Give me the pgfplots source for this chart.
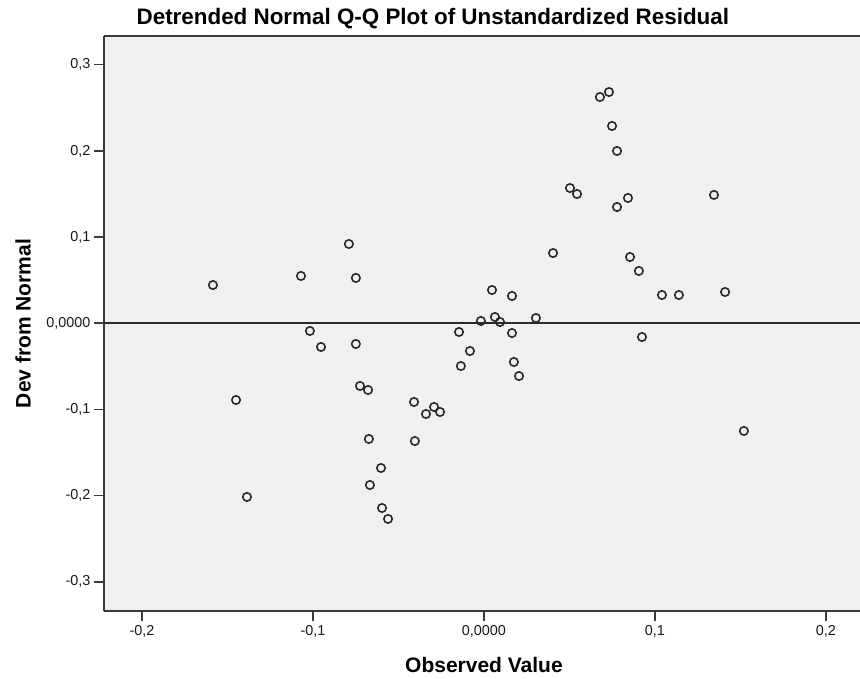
\documentclass[border=0pt]{standalone}
\usepackage{fontspec}
\setmainfont{Liberation Sans}
\usepackage{pgfplots}
\pgfplotsset{compat=1.18}
\definecolor{plotbg}{HTML}{F0F0F0}
\definecolor{framec}{HTML}{3A3A3A}
\definecolor{markc}{HTML}{2A2A2A}
\begin{document}
\begin{tikzpicture}
\path[use as bounding box] (-104pt,-67pt) rectangle (756pt,611pt);
\begin{axis}[
  scale only axis, width=756pt, height=575pt,
  at={(0,0)}, anchor=south west,
  xmin=-0.2222, xmax=0.2199, ymin=-0.3338, ymax=0.3333,
  axis background/.style={fill=plotbg},
  axis x line=box, axis y line=left,
  axis line style={-, draw=framec, line width=1.6pt},
  tick align=outside, xtick pos=bottom, ytick pos=left,
  major tick length=10pt,
  tick style={draw=framec, line width=1.6pt},
  xtick={-0.2,-0.1,0,0.1,0.2},
  xticklabels={{-0,2},{-0,1},{0,0000},{0,1},{0,2}},
  ytick={-0.3,-0.2,-0.1,0,0.1,0.2,0.3},
  yticklabels={{-0,3},{-0,2},{-0,1},{0,0000},{0,1},{0,2},{0,3}},
  /pgf/number format/assume math mode=true,
  ticklabel style={font=\fontsize{14.4}{16}\selectfont, text=black!90},
  xticklabel style={yshift=-1pt},
  title={Detrended Normal Q-Q Plot of Unstandardized Residual},
  title style={at={(axis description cs:0.435,1)}, anchor=center, yshift=11pt,
    font=\fontsize{22.4}{26}\selectfont\bfseries},
  xlabel={Observed Value},
  xlabel style={at={(axis description cs:0.5026,0)}, anchor=center, yshift=-54pt,
    font=\fontsize{21}{25}\selectfont\bfseries},
  ylabel={Dev from Normal},
  ylabel style={at={(axis description cs:-0.1071,0.5)}, anchor=center, rotate=0,
    font=\fontsize{21}{25}\selectfont\bfseries},
  clip=false,
]
\addplot[markc, line width=1.8pt, forget plot] coordinates {(-0.2222,0) (0.2199,0)};
\addplot[only marks, mark=o, mark size=4.2pt, mark options={draw=markc, line width=1.6pt}] coordinates {
(-0.1585,0.0444) (-0.1450,-0.0890) (-0.1386,-0.2015) (-0.1070,0.0549) (-0.1018,-0.0089)
(-0.0953,-0.0275) (-0.0790,0.0920) (-0.0749,0.0526) (-0.0749,-0.0240) (-0.0725,-0.0727)
(-0.0678,-0.0774) (-0.0673,-0.1342) (-0.0667,-0.1876) (-0.0602,-0.1679) (-0.0596,-0.2143)
(-0.0561,-0.2270) (-0.0409,-0.0913) (-0.0404,-0.1366) (-0.0339,-0.1052) (-0.0292,-0.0971)
(-0.0257,-0.1029) (-0.0146,-0.0101) (-0.0135,-0.0496) (-0.0082,-0.0322) (-0.0018,0.0027)
(0.0047,0.0386) (0.0064,0.0073) (0.0094,0.0015) (0.0164,0.0317) (0.0164,-0.0113)
(0.0175,-0.0449) (0.0205,-0.0612) (0.0304,0.0061) (0.0404,0.0815) (0.0503,0.1569)
(0.0544,0.1500) (0.0678,0.2625) (0.0731,0.2683) (0.0749,0.2289) (0.0778,0.1999)
(0.0778,0.1349) (0.0842,0.1454) (0.0854,0.0769) (0.0906,0.0607) (0.0924,-0.0159)
(0.1041,0.0328) (0.1140,0.0328) (0.1345,0.1489) (0.1410,0.0363) (0.1520,-0.1249)
};
\end{axis}
\end{tikzpicture}
\end{document}
